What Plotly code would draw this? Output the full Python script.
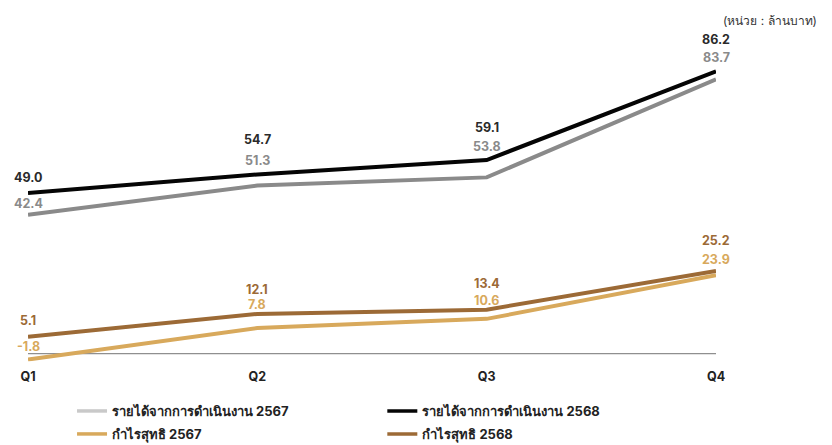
import plotly.graph_objects as go

quarters = ["Q1", "Q2", "Q3", "Q4"]
rev_2567 = [42.4, 51.3, 53.8, 83.7]
rev_2568 = [49.0, 54.7, 59.1, 86.2]
profit_2567 = [-1.8, 7.8, 10.6, 23.9]
profit_2568 = [5.1, 12.1, 13.4, 25.2]

names = {
    "rev_2567": "รายได้จากการดำเนินงาน 2567",
    "rev_2568": "รายได้จากการดำเนินงาน 2568",
    "profit_2567": "กำไรสุทธิ 2567",
    "profit_2568": "กำไรสุทธิ 2568",
}
unit_text = "(หน่วย : ล้านบาท)"

C_GRAY = "#8a8a8a"
C_GRAY_LEG = "#c9c9c9"
C_BLACK = "#050505"
C_TAN = "#d8a95c"
C_BROWN = "#9c6a36"
FONT = "Inter, 'Noto Sans', sans-serif"

x = list(range(len(quarters)))
fig = go.Figure()

# zero baseline
fig.add_trace(go.Scatter(x=[x[0], x[-1]], y=[0, 0], mode="lines",
                         line=dict(color="#8f8f8f", width=1.2),
                         showlegend=False, hoverinfo="skip"))

series = [
    (rev_2567, C_GRAY, C_GRAY_LEG, names["rev_2567"], "legend"),
    (rev_2568, C_BLACK, C_BLACK, names["rev_2568"], "legend2"),
    (profit_2567, C_TAN, C_TAN, names["profit_2567"], "legend3"),
    (profit_2568, C_BROWN, C_BROWN, names["profit_2568"], "legend4"),
]
for vals, col, legcol, nm, lg in series:
    fig.add_trace(go.Scatter(x=x, y=vals, mode="lines",
                             line=dict(color=col, width=4),
                             showlegend=False, hoverinfo="skip"))
for vals, col, legcol, nm, lg in series:
    fig.add_trace(go.Scatter(x=[None], y=[None], mode="lines",
                             line=dict(color=legcol, width=3.5),
                             name=nm, showlegend=True, legend=lg))

# data labels
def add_labels(newer, older, c_new, c_old, t_new, t_old):
    for i in range(len(x)):
        if i == 0:
            s_new, s_old = 16, -10
        else:
            s_new, s_old = t_new[i - 1], t_old[i - 1]
        fig.add_annotation(x=x[i], y=newer[i], yshift=s_new, text=f"{newer[i]:.1f}",
                           showarrow=False, font=dict(family=FONT, size=12.5, color=c_new, weight="bold"))
        fig.add_annotation(x=x[i], y=newer[i], yshift=s_old, text=f"{older[i]:.1f}",
                           showarrow=False, font=dict(family=FONT, size=12.5, color=c_old, weight="bold"))

add_labels(rev_2568, rev_2567, "#2a2a2a", C_GRAY, [35, 33, 32], [14, 14, 14])
add_labels(profit_2568, profit_2567, C_BROWN, C_TAN, [24, 26, 31], [9, 9, 12])

fig.add_annotation(xref="paper", yref="paper", x=1.007, y=1.03, xanchor="left", yanchor="middle",
                   text=unit_text, showarrow=False,
                   font=dict(family=FONT, size=12, color="#333"))

fig.update_xaxes(range=[0, 3], tickvals=x, ticktext=quarters, showgrid=False,
                 zeroline=False, showline=False, ticks="", ticklabelstandoff=6,
                 tickfont=dict(family=FONT, size=12.5, color="#222", weight="bold"))
fig.update_yaxes(range=[-2.42, 98.8], visible=False, showgrid=False, zeroline=False)

leg_common = dict(orientation="h", xanchor="left", yanchor="middle", yref="container",
                  font=dict(family=FONT, size=13, color="#222", weight="bold"),
                  itemwidth=30, bgcolor="rgba(0,0,0,0)")
# page body has an 8px margin, so the figure is sized 8px smaller each way
fig.update_layout(
    width=824, height=437,
    margin=dict(l=14, r=116, t=22, b=80),
    paper_bgcolor="white", plot_bgcolor="white",
    showlegend=True,
    legend=dict(x=0.064, y=0.0778, **leg_common),
    legend2=dict(x=0.515, y=0.0778, **leg_common),
    legend3=dict(x=0.064, y=0.0252, **leg_common),
    legend4=dict(x=0.515, y=0.0252, **leg_common),
)

fig.write_html("out.html")
